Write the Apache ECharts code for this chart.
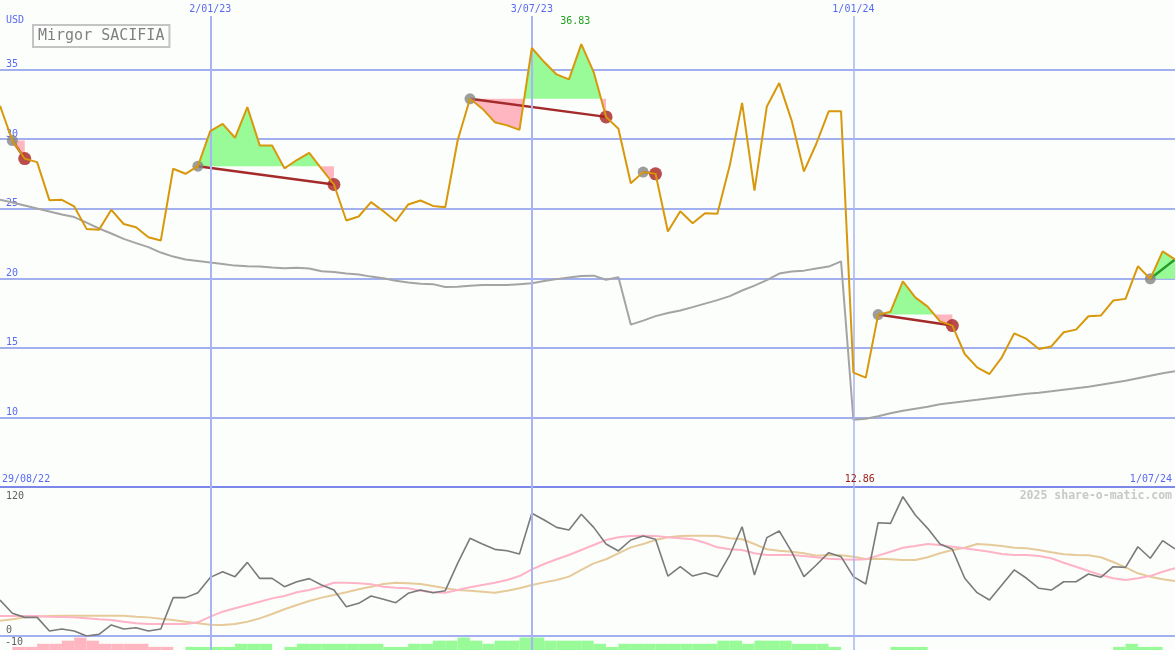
<!DOCTYPE html>
<html><head><meta charset="utf-8">
<script src="https://cdn.jsdelivr.net/npm/echarts@6/dist/echarts.min.js"></script>
<style>html,body{margin:0;padding:0;background:#fbfefb}#c{width:1175px;height:650px}</style>
</head><body><div id="c"></div>
<script>
// ---------- data ----------
const title = 'Mirgor SACIFIA';
const currency = 'USD';
const startLabel = '29/08/22';
const endLabel = '1/07/24';
const watermark = '2025 share-o-matic.com';
const dateMarks = [
  { label: '2/01/23', idx: 17 },
  { label: '3/07/23', idx: 43 },
  { label: '1/01/24', idx: 69 }
];
const priceTicks = [10, 15, 20, 25, 30, 35];
const oscTopLabel = '120';
const oscBottomLabel = '0';
const histLabel = '-10';

// weekly closing price (USD)
const price = [
  32.4, 29.9, 28.6, 28.35, 25.6, 25.64, 25.16, 23.55, 23.48, 24.92,
  23.9, 23.67, 22.95, 22.71, 27.87, 27.51, 28.06, 30.58, 31.1, 30.1,
  32.3, 29.55, 29.55, 27.9, 28.5, 29.02, 27.87, 26.74, 24.15, 24.44,
  25.47, 24.82, 24.1, 25.3, 25.59, 25.2, 25.1, 29.9, 32.9, 32.19,
  31.22, 30.99, 30.67, 36.55, 35.54, 34.65, 34.3, 36.83, 34.82, 31.6,
  30.75, 26.83, 27.63, 27.51, 23.36, 24.82, 23.96, 24.68, 24.63, 28.1,
  32.6, 26.3, 32.35, 34.03, 31.35, 27.68, 29.67, 32.0, 32.0, 13.22,
  12.86, 17.39, 17.6, 19.78, 18.63, 17.96, 16.9, 16.6, 14.56, 13.6,
  13.12, 14.32, 16.04, 15.64, 14.92, 15.1, 16.12, 16.31, 17.27, 17.32,
  18.4, 18.52, 20.86, 19.96, 21.94, 21.35
];
// long moving average (grey)
const avg = [
  25.64, 25.45, 25.23, 25.01, 24.8, 24.58, 24.4, 24.0, 23.58, 23.22,
  22.83, 22.53, 22.24, 21.85, 21.56, 21.35, 21.24, 21.13, 21.02, 20.91,
  20.87, 20.84, 20.77, 20.72, 20.75, 20.7, 20.5, 20.45, 20.34, 20.27,
  20.12, 20.01, 19.83, 19.69, 19.6, 19.58, 19.37, 19.4, 19.47, 19.52,
  19.52, 19.52, 19.58, 19.64, 19.8, 19.94, 20.05, 20.16, 20.19, 19.9,
  20.07, 16.67, 16.96, 17.28, 17.5, 17.68, 17.93, 18.18, 18.43, 18.72,
  19.12, 19.47, 19.87, 20.34, 20.48, 20.55, 20.7, 20.84, 21.22, 9.83,
  9.9, 10.09, 10.3, 10.48, 10.63, 10.77, 10.95, 11.06, 11.17, 11.27,
  11.38, 11.49, 11.6, 11.71, 11.78, 11.88, 11.99, 12.1, 12.21, 12.35,
  12.5, 12.64, 12.82, 13.0, 13.18, 13.32
];
// oscillator (grey), fast signal (pink), slow signal (tan)
const osc = [
  29, 18.3, 15, 15, 4, 5.6, 4, 0, 1.3, 8.9,
  5.6, 6.7, 4, 5.6, 30.9, 30.9, 34.9, 47.2, 51.8, 47.8,
  59.3, 46.4, 46.4, 39.7, 43.7, 46.2, 41.1, 37, 23.6, 26.3,
  32.2, 29.6, 26.8, 34.4, 37, 34.9, 36.5, 58.5, 78.7, 74.1,
  69.8, 68.7, 66, 98.8, 93.4, 87.5, 85.4, 98, 87.5, 74.1,
  68.5, 77.3, 80.5, 77.9, 48.3, 55.8, 48.3, 51, 47.8, 65.2,
  88, 49.1, 79.2, 84.6, 67.9, 47.8, 57.2, 67.1, 63.9, 47.8,
  41.9, 91.2, 90.7, 112.2, 97.4, 86.7, 74.1, 69.8, 46.5, 34.9,
  29, 41.1, 53.2, 46.5, 38.4, 37, 43.7, 43.7, 49.9, 47.3,
  55.8, 55.3, 71.9, 62.6, 76.8, 70.1
];
const oscFast = [
  16.1, 16.1, 16.1, 16.1, 15.6, 15.3, 15.0, 14.2, 13.4, 12.9,
  11.5, 10.2, 9.7, 9.7, 9.7, 9.7, 11.0, 15.6, 19.6, 22.3,
  25.0, 27.6, 30.3, 32.2, 35.2, 37.0, 39.7, 42.9, 42.9, 42.4,
  41.6, 39.7, 38.9, 38.4, 36.5, 35.2, 34.9, 37.0, 39.2, 41.1,
  42.9, 45.1, 48.3, 53.7, 58.0, 61.8, 65.2, 69.3, 73.3, 77.3,
  79.5, 80.5, 80.8, 80.5, 79.5, 78.7, 77.9, 75.1, 71.4, 69.8,
  69.3, 66.6, 65.2, 65.2, 65.2, 64.4, 63.4, 62.3, 61.8, 61.5,
  61.8, 64.7, 67.9, 71.1, 72.5, 74.1, 73.3, 71.9, 70.6, 69.3,
  67.9, 66.0, 65.2, 65.2, 64.4, 62.6, 59.0, 55.8, 52.3, 49.1,
  46.5, 45.1, 46.5, 48.3, 51.8, 54.5
];
const oscSlow = [
  12.3, 13.4, 15.0, 15.6, 16.1, 16.4, 16.4, 16.4, 16.4, 16.4,
  16.4, 15.6, 15.0, 13.9, 12.9, 11.5, 10.2, 9.1, 8.9, 9.7,
  11.5, 14.2, 17.7, 21.5, 25.0, 28.2, 30.9, 33.0, 35.2, 37.6,
  39.7, 41.9, 42.9, 42.4, 41.9, 40.3, 38.4, 37.0, 36.5, 35.7,
  34.9, 36.5, 38.4, 41.1, 43.2, 45.1, 47.8, 53.2, 58.5, 61.8,
  66.6, 71.4, 74.1, 77.3, 79.5, 80.5, 80.8, 80.8, 80.5, 78.7,
  77.9, 74.1, 69.8, 68.7, 67.9, 66.6, 64.7, 65.2, 65.0, 63.9,
  62.0, 62.3, 61.8, 61.2, 61.2, 63.4, 66.6, 69.3, 71.1, 74.1,
  73.5, 72.5, 71.1, 70.6, 69.3, 67.4, 65.8, 65.2, 65.0, 63.4,
  59.6, 55.3, 50.5, 47.8, 45.7, 44.3
];
// momentum histogram (negative = pink, positive = green)
const hist = [
  0, -1, -1, -2, -2, -3, -4, -3, -2, -2,
  -2, -2, -1, -1, 0, 1, 1, 1, 1, 2,
  2, 2, 0, 1, 2, 2, 2, 2, 2, 2,
  2, 1, 1, 2, 2, 3, 3, 4, 3, 2,
  3, 3, 4, 4, 3, 3, 3, 3, 2, 1,
  2, 2, 2, 2, 2, 2, 2, 2, 3, 3,
  2, 3, 3, 3, 2, 2, 2, 1, 0, 0,
  0, 0, 1, 1, 1, 0, 0, 0, 0, 0,
  0, 0, 0, 0, 0, 0, 0, 0, 0, 0,
  1, 2, 1, 1, 0, 0
];
// trades: [entry week index, exit week index or null if still open]
const trades = [[1, 2], [16, 27], [38, 49], [52, 53], [71, 77], [93, null]];

// ---------- chart ----------
const BLUE_TXT = '#5a6af0';
const MONO = 'DejaVu Sans Mono';
const last = price.length - 1;
const chart = echarts.init(document.getElementById('c'), null, { renderer: 'canvas' });

const series = [];
// overlay with date lines
series.push({
  type: 'line', xAxisIndex: 3, yAxisIndex: 3, z: 1, silent: true, animation: false,
  data: dateMarks.map(d => [d.idx, 0]), symbol: 'none', lineStyle: { opacity: 0, width: 0 },
  markLine: {
    silent: true, animation: false, symbol: ['none', 'none'],
    label: { show: true, position: 'end', distance: 2, formatter: p => p.name,
             color: BLUE_TXT, fontFamily: MONO, fontSize: 10 },
    data: dateMarks.map((d, j) => ({
      name: d.label, xAxis: d.idx,
      lineStyle: { type: 'solid', color: '#a8b4f4', width: j === 2 ? 1.5 : 2 }
    }))
  }
});

// trade shading (gain green / loss pink, relative to entry price)
series.push({
  type: 'custom', coordinateSystem: 'cartesian2d', xAxisIndex: 0, yAxisIndex: 0,
  z: 2, silent: true, animation: false,
  data: trades.map(t => [t[0], price[t[0]]]),
  renderItem: (params, api) => {
    const t = trades[params.dataIndex];
    const a = t[0], b = t[1] === null ? last : t[1];
    const E = price[a];
    const pts = [];
    for (let i = a; i <= b; i++) {
      if (i > a) {
        const p0 = price[i - 1], p1 = price[i];
        if ((p0 - E) * (p1 - E) < 0) pts.push([i - 1 + (E - p0) / (p1 - p0), E]);
      }
      pts.push([i, price[i]]);
    }
    const g = pts.map(p => api.coord([p[0], Math.max(p[1], E)]));
    g.push(api.coord([b, E]), api.coord([a, E]));
    const r = pts.map(p => api.coord([p[0], Math.min(p[1], E)]));
    r.push(api.coord([b, E]), api.coord([a, E]));
    return { type: 'group', children: [
      { type: 'polygon', shape: { points: g }, style: { fill: '#98fb98' } },
      { type: 'polygon', shape: { points: r }, style: { fill: '#ffb6c1' } }
    ] };
  }
});

// moving average
series.push({ type: 'line', xAxisIndex: 0, yAxisIndex: 0, z: 3, silent: true, animation: false,
  symbol: 'none', data: avg.map((v, i) => [i, v]), lineStyle: { color: '#a4a4a4', width: 2 } });

// entry-exit connectors
trades.forEach(([a, bRaw]) => {
  const b = bRaw === null ? last : bRaw;
  const E = price[a], P = price[b];
  series.push({ type: 'line', xAxisIndex: 0, yAxisIndex: 0, z: 4, silent: true, animation: false,
    symbol: 'none', data: [[a, E], [b, P]],
    lineStyle: { color: P < E ? '#a52a2a' : '#2a9a2a', width: 2.5 } });
});

// dots
series.push({ type: 'scatter', xAxisIndex: 0, yAxisIndex: 0, z: 5, silent: true, animation: false,
  symbolSize: 11, itemStyle: { color: '#858585' },
  data: trades.map(t => [t[0], price[t[0]]]) });
series.push({ type: 'scatter', xAxisIndex: 0, yAxisIndex: 0, z: 5, silent: true, animation: false,
  symbolSize: 13, itemStyle: { color: '#a82020' },
  data: trades.filter(t => t[1] !== null).map(t => [t[1], price[t[1]]]) });

// price
series.push({ type: 'line', xAxisIndex: 0, yAxisIndex: 0, z: 6, silent: true, animation: false,
  symbol: 'none', data: price.map((v, i) => [i, v]), lineStyle: { color: '#d8980c', width: 2 } });

// oscillator panel
series.push({ type: 'line', xAxisIndex: 1, yAxisIndex: 1, z: 3, silent: true, animation: false,
  symbol: 'none', data: oscSlow.map((v, i) => [i, v]), lineStyle: { color: '#e6ca9a', width: 2 } });
series.push({ type: 'line', xAxisIndex: 1, yAxisIndex: 1, z: 3, silent: true, animation: false,
  symbol: 'none', data: oscFast.map((v, i) => [i, v]), lineStyle: { color: '#ffb3c6', width: 2 } });
series.push({ type: 'line', xAxisIndex: 1, yAxisIndex: 1, z: 4, silent: true, animation: false,
  symbol: 'none', data: osc.map((v, i) => [i, v]), lineStyle: { color: '#7a7a7a', width: 1.6 } });

// histogram
series.push({ type: 'bar', xAxisIndex: 2, yAxisIndex: 2, z: 3, silent: true, animation: false,
  barWidth: 12.4,
  data: hist.map((h, i) => ({ value: [i + 0.5, Math.abs(h)],
                               itemStyle: { color: h < 0 ? '#ffb6c1' : '#98fb98' } })) });

const xBase = { type: 'value', min: 0, max: last, axisTick: { show: false }, axisLabel: { show: false },
                splitLine: { show: false } };

const option = {
  backgroundColor: '#fbfefb',
  animation: false,
  grid: [
    { left: 0, right: 0, top: 0, height: 487 },
    { left: 0, right: 0, top: 487, height: 149 },
    { left: 0, right: 0, top: 636, height: 14 },
    { left: 0, right: 0, top: 16, bottom: 0 }
  ],
  xAxis: [
    Object.assign({}, xBase, { gridIndex: 0, show: true,
      axisLine: { show: true, onZero: false, lineStyle: { color: '#7b88ea', width: 2 } } }),
    Object.assign({}, xBase, { gridIndex: 1, show: true,
      axisLine: { show: true, onZero: false, lineStyle: { color: '#a3b0f0', width: 2 } } }),
    Object.assign({}, xBase, { gridIndex: 2, show: false }),
    Object.assign({}, xBase, { gridIndex: 3, show: false })
  ],
  yAxis: [
    { type: 'value', gridIndex: 0, min: 5, max: 40, interval: 5,
      axisLine: { show: false }, axisTick: { show: false },
      axisLabel: { inside: true, margin: 6, verticalAlign: 'bottom', color: BLUE_TXT,
                   fontFamily: MONO, fontSize: 10,
                   formatter: v => priceTicks.indexOf(v) >= 0 ? String(v) : '' },
      splitLine: { show: true, showMinLine: false, showMaxLine: false,
                   lineStyle: { color: '#a3b0f0', width: 2 } } },
    { type: 'value', gridIndex: 1, min: 0, max: 120, show: false, splitLine: { show: false } },
    { type: 'value', gridIndex: 2, min: 0, max: 4.5, show: false, splitLine: { show: false } },
    { type: 'value', gridIndex: 3, min: 0, max: 1, show: false, splitLine: { show: false } }
  ],
  series: series
};
chart.setOption(option);

// text overlays
const maxV = Math.max.apply(null, price), minV = Math.min.apply(null, price);
const maxX = chart.convertToPixel({ xAxisIndex: 0 }, price.indexOf(maxV));
const minX = chart.convertToPixel({ xAxisIndex: 0 }, price.indexOf(minV));
const txt = (props, style) => Object.assign({ type: 'text', silent: true, z: 100 }, props,
  { style: Object.assign({ fontFamily: MONO, fontSize: 10, fill: BLUE_TXT }, style) });
chart.setOption({
  graphic: [
    txt({ left: 6, top: 15 }, { text: currency }),
    txt({ left: 32, top: 24 }, { text: title, fontSize: 15, fill: '#808080',
        borderColor: '#c4c4c4', borderWidth: 2, padding: [3, 4, 2, 4], backgroundColor: '#fbfefb' }),
    txt({ x: maxX - 6, y: 21 }, { text: maxV.toFixed(2), fill: '#22a022', align: 'center', verticalAlign: 'middle' }),
    txt({ x: minX - 6, y: 479 }, { text: minV.toFixed(2), fill: '#a02020', align: 'center', verticalAlign: 'middle' }),
    txt({ x: 2, y: 479 }, { text: startLabel, align: 'left', verticalAlign: 'middle' }),
    txt({ x: 1172, y: 479 }, { text: endLabel, align: 'right', verticalAlign: 'middle' }),
    txt({ x: 1172, y: 496 }, { text: watermark, align: 'right', verticalAlign: 'middle',
        fill: '#c8c8c8', fontSize: 11.5, fontWeight: 'bold' }),
    txt({ x: 6, y: 496.5 }, { text: oscTopLabel, fill: '#606060', verticalAlign: 'middle' }),
    txt({ x: 6, y: 630 }, { text: oscBottomLabel, fill: '#606060', verticalAlign: 'middle' }),
    txt({ x: 5, y: 642.5 }, { text: histLabel, fill: '#606060', verticalAlign: 'middle' })
  ]
});
</script>
</body></html>
